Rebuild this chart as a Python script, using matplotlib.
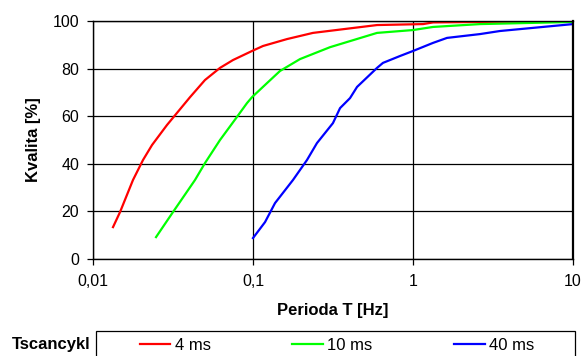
import matplotlib.pyplot as plt
from matplotlib.patches import Rectangle

plt.rcParams['font.family'] = ['Liberation Sans', 'DejaVu Sans']

# Tscancykl = 4 ms
t_4ms = [0.01334, 0.01475, 0.01778, 0.02054, 0.02339, 0.0290, 0.0404, 0.0501, 0.0622,
         0.0750, 0.0986, 0.1155, 0.163, 0.237, 0.596, 1.155, 1.334, 10.0]
q_4ms = [13.4, 19.7, 33.2, 41.6, 47.9, 56.3, 68.0, 75.2, 80.3,
         83.6, 87.4, 89.5, 92.4, 95.0, 98.3, 98.7, 99.4, 100.0]

# Tscancykl = 10 ms
t_10ms = [0.02477, 0.0316, 0.0434, 0.0501, 0.0622, 0.0794, 0.0917, 0.0986, 0.1223,
          0.1475, 0.1967, 0.303, 0.596, 1.0, 1.334, 2.62, 10.0]
q_10ms = [9.2, 19.7, 33.2, 40.3, 50.0, 59.7, 65.5, 68.0, 73.9,
          79.0, 84.0, 89.0, 95.0, 96.2, 97.5, 98.7, 99.6]

# Tscancykl = 40 ms
t_40ms = [0.1, 0.1189, 0.1373, 0.1778, 0.2175, 0.251, 0.316, 0.350, 0.404, 0.447,
          0.596, 0.649, 0.830, 1.0, 1.334, 1.632, 2.62, 3.50, 10.0]
q_40ms = [8.8, 15.5, 23.5, 33.2, 41.6, 48.7, 57.1, 63.4, 67.6, 72.3,
          80.3, 82.4, 85.3, 87.4, 90.8, 92.9, 94.5, 95.8, 98.7]

x_ticks = [0.01, 0.1, 1, 10]
x_tick_labels = ["0,01", "0,1", "1", "10"]
y_ticks = [0, 20, 40, 60, 80, 100]

W, H = 584, 356
fig = plt.figure(figsize=(W / 100, H / 100), dpi=100)
ax = fig.add_axes([93 / W, 1 - 259 / H, 480 / W, 238 / H])

l1, = ax.plot(t_4ms, q_4ms, color="#ff0000", lw=1.6, label="4 ms")
l2, = ax.plot(t_10ms, q_10ms, color="#00ff00", lw=1.6, label="10 ms")
l3, = ax.plot(t_40ms, q_40ms, color="#0000ff", lw=1.6, label="40 ms")

ax.set_xscale("log")
ax.set_xlim(0.01, 10)
ax.set_ylim(0, 100)
ax.set_xticks(x_ticks)
ax.set_xticklabels(x_tick_labels)
ax.minorticks_off()
ax.set_yticks(y_ticks)
ax.grid(True, color="black", lw=0.9)
ax.set_axisbelow(True)
ax.tick_params(direction="out", length=4, width=0.9, labelsize=11.5)
ax.tick_params(axis="x", pad=7)
ax.tick_params(axis="y", pad=6)
for s in ax.spines.values():
    s.set_linewidth(1.0)
    s.set_color("black")
ax.spines["right"].set_linewidth(1.6)

ax.set_xlabel("Perioda T [Hz]", fontsize=12, fontweight="bold", labelpad=10)
ax.set_ylabel("Kvalita [%]", fontsize=12, fontweight="bold", labelpad=8)

# legend box (cut off by the bottom edge, as in the original)
fig.patches.append(Rectangle((96 / W, -0.05), 479 / W, 0.05 + (1 - 331 / H),
                             transform=fig.transFigure, fill=False,
                             edgecolor="black", lw=0.9))
fig.legend(handles=[l1, l2, l3], ncol=3, loc="center",
           bbox_to_anchor=(337 / W, 1 - 345 / H), frameon=False,
           fontsize=12, handlelength=1.85, handletextpad=0.25,
           columnspacing=4.9, borderpad=0, borderaxespad=0)

fig.text(90 / W, 1 - 345 / H, "Tscancykl", ha="right", va="center",
         fontsize=12, fontweight="bold")

fig.savefig("out.png", dpi=100)
